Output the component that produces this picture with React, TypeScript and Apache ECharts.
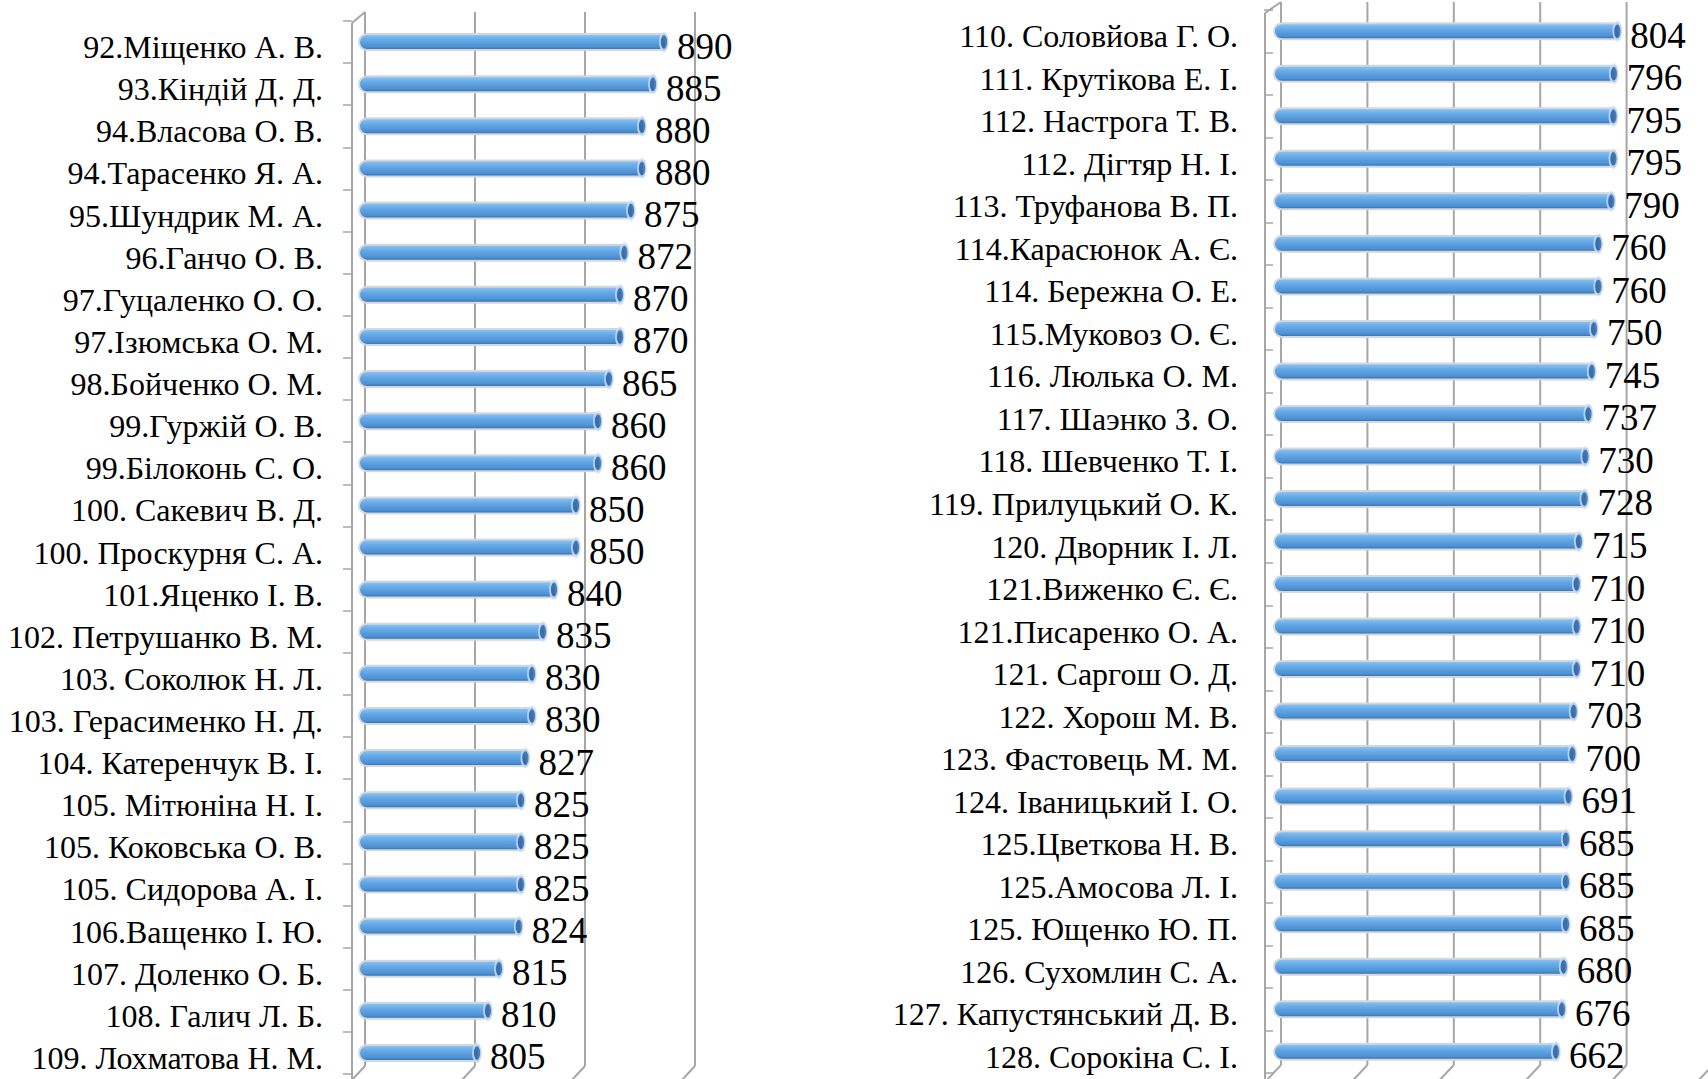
import React, { useEffect, useRef } from "react";
import * as echarts from "echarts";

const leftNames = [
  "92.Міщенко А. В.", "93.Кіндій Д. Д.", "94.Власова О. В.", "94.Тарасенко Я. А.",
  "95.Шундрик М. А.", "96.Ганчо О. В.", "97.Гуцаленко О. О.", "97.Ізюмська О. М.",
  "98.Бойченко О. М.", "99.Гуржій О. В.", "99.Білоконь С. О.", "100. Сакевич В. Д.",
  "100. Проскурня С. А.", "101.Яценко І. В.", "102. Петрушанко В. М.", "103. Соколюк Н. Л.",
  "103. Герасименко Н. Д.", "104. Катеренчук В. І.", "105. Мітюніна Н. І.", "105. Коковська О. В.",
  "105. Сидорова А. І.", "106.Ващенко І. Ю.", "107. Доленко О. Б.", "108. Галич Л. Б.",
  "109. Лохматова Н. М.",
];
const leftValues = [
  890, 885, 880, 880, 875, 872, 870, 870, 865, 860, 860, 850, 850, 840, 835, 830, 830,
  827, 825, 825, 825, 824, 815, 810, 805,
];
const rightNames = [
  "110. Соловйова Г. О.", "111. Крутікова Е. І.", "112. Настрога Т. В.", "112. Дігтяр Н. І.",
  "113. Труфанова В. П.", "114.Карасюнок А. Є.", "114. Бережна О. Е.", "115.Муковоз О. Є.",
  "116. Люлька О. М.", "117. Шаэнко З. О.", "118. Шевченко Т. І.", "119. Прилуцький О. К.",
  "120. Дворник І. Л.", "121.Виженко Є. Є.", "121.Писаренко О. А.", "121. Саргош О. Д.",
  "122. Хорош М. В.", "123. Фастовець М. М.", "124. Іваницький І. О.", "125.Цветкова Н. В.",
  "125.Амосова Л. І.", "125. Ющенко Ю. П.", "126. Сухомлин С. А.", "127. Капустянський Д. В.",
  "128. Сорокіна С. І.",
];
const rightValues = [
  804, 796, 795, 795, 790, 760, 760, 750, 745, 737, 730, 728, 715, 710, 710, 710, 703,
  700, 691, 685, 685, 685, 680, 676, 662,
];
const leftTicks = [750, 800, 850, 900];
const rightTicks = [0, 200, 400, 600, 800, 1000];

const FONT = "'Liberation Serif', 'Times New Roman', serif";
const GRAY = "#a6a6a6";

export default function App() {
  const ref = useRef<HTMLDivElement>(null);
  useEffect(() => {
    if (!ref.current) return;
    const chart = echarts.init(ref.current, undefined, { renderer: "svg" });
    const barGrad = () =>
      new echarts.graphic.LinearGradient(0, 0, 0, 1, [
        { offset: 0, color: "#92c6f2" },
        { offset: 0.35, color: "#66aae8" },
        { offset: 0.8, color: "#4d90d3" },
        { offset: 1, color: "#2f69a8" },
      ]);
    const yAxisBase = (names: string[], idx: number, offset: number, margin: number) => ({
      type: "category",
      gridIndex: idx,
      data: names,
      inverse: true,
      offset,
      axisLine: { show: false },
      axisTick: { show: true, length: 9, lineStyle: { color: GRAY, width: 1.5 } },
      axisLabel: {
        margin,
        formatter: (v: string) => `{s| }\n{a|${v}}`,
        rich: {
          s: { fontSize: 2, lineHeight: 10 },
          a: {
            fontSize: 32,
            fontFamily: FONT,
            color: "#000",
            lineHeight: 36,
          },
        },
      },
    });
    const xAxisBase = (idx: number, min: number, max: number, interval: number) => ({
      type: "value",
      gridIndex: idx,
      min,
      max,
      interval,
      axisLine: { show: false },
      axisTick: { show: false },
      axisLabel: { show: false },
      splitLine: { show: false },
    });
    const barSeries = (idx: number, values: number[]) => ({
      type: "bar",
      xAxisIndex: idx,
      yAxisIndex: idx,
      data: values,
      barWidth: 18,
      z: 3,
      itemStyle: {
        color: barGrad(),
        borderColor: "#d4d8dc",
        borderWidth: 2,
        borderRadius: [9, 2, 2, 9],
      },
      label: {
        show: true,
        position: "right",
        distance: 10,
        offset: [0, 4],
        fontSize: 37,
        fontFamily: FONT,
        color: "#000",
      },
    });
    const capSeries = (idx: number, values: number[]) => ({
      type: "scatter",
      xAxisIndex: idx,
      yAxisIndex: idx,
      data: values.map((v, i) => [v, i]),
      symbol: "circle",
      symbolSize: [8, 17],
      symbolOffset: [-3, 0],
      z: 4,
      itemStyle: { color: "#2d64a6", borderColor: "#cfe4f7", borderWidth: 2.5 },
      silent: true,
    });
    chart.setOption({
      animation: false,
      backgroundColor: "#ffffff",
      grid: [
        { left: 359, width: 330, top: 21, height: 1053 },
        { left: 1273, width: 432, top: 10, height: 1063 },
      ],
      xAxis: [xAxisBase(0, 750, 900, 50), xAxisBase(1, 0, 1000, 200)],
      yAxis: [yAxisBase(leftNames, 0, 7, 29), yAxisBase(rightNames, 1, 8, 27)],
      series: [
        barSeries(0, leftValues),
        capSeries(0, leftValues),
        barSeries(1, rightValues),
        capSeries(1, rightValues),
      ],
    });

    const lines: any[] = [];
    const line = (x1: number, y1: number, x2: number, y2: number) =>
      lines.push({
        type: "line",
        z: 0,
        silent: true,
        shape: { x1, y1, x2, y2 },
        style: { stroke: GRAY, lineWidth: 2 },
      });
    const lx = (v: number) => chart.convertToPixel({ xAxisIndex: 0 }, v) as number;
    leftTicks.forEach((v) => {
      const b = lx(v) + 6;
      line(b, 12, b, 1066);
      line(b, 1066, b - 14, 1081);
    });
    const lf = lx(leftTicks[0]) - 7;
    line(lf, 23, lf, 1081);
    line(lf, 23, lx(leftTicks[0]) + 6, 12);
    const rx = (v: number) => chart.convertToPixel({ xAxisIndex: 1 }, v) as number;
    rightTicks.forEach((v) => {
      const b = rx(v) + 8;
      line(b, 2, b, 1065);
      line(b, 1065, b - 15, 1081);
    });
    const rf = rx(rightTicks[0]) - 8;
    line(rf, 13, rf, 1081);
    line(rf, 13, rx(rightTicks[0]) + 8, 2);
    chart.setOption({ graphic: lines });

    return () => chart.dispose();
  }, []);
  return (
    <div
      ref={ref}
      style={{ position: "absolute", left: 0, top: 0, width: 1708, height: 1079 }}
    />
  );
}
